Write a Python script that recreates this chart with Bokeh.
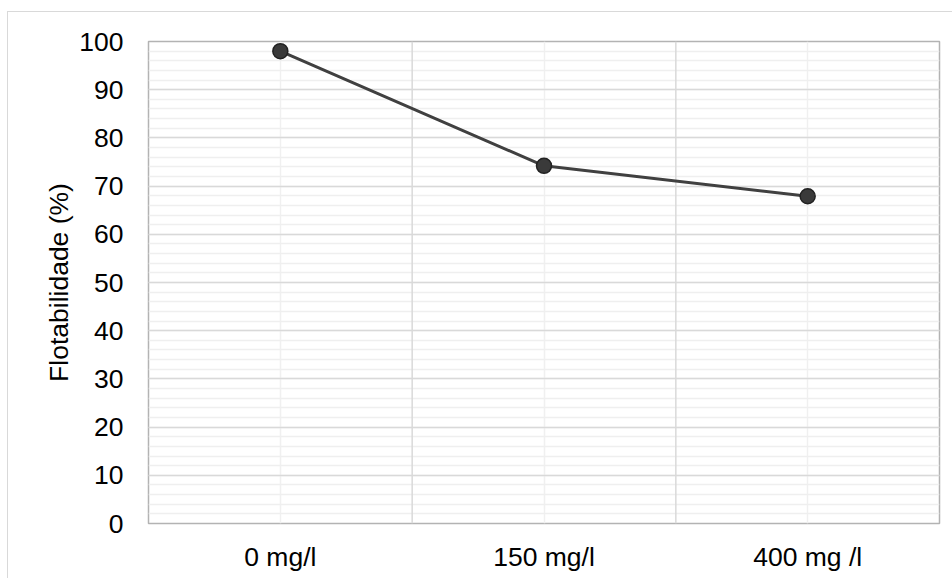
from bokeh.plotting import figure
from bokeh.models import FactorRange, Range1d, FixedTicker, Span, ColumnDataSource
from bokeh.embed import file_html
from bokeh.resources import INLINE

categories = ["0 mg/l", "150 mg/l", "400 mg /l"]
flotabilidade = [98.0, 74.2, 67.9]
y_ticks = list(range(0, 101, 10))
y_minor = list(range(0, 101, 2))
y_label = "Flotabilidade (%)"

FONT = "Liberation Sans"
TXT = "#000000"
FS = "26.5px"

src = ColumnDataSource(dict(x=categories, y=flotabilidade))

p = figure(width=945, height=567, x_range=FactorRange(factors=categories, range_padding=0),
           y_range=Range1d(0, 100), output_backend="svg", toolbar_location=None,
           min_border_left=140, min_border_right=14, min_border_top=29, min_border_bottom=56)
p.styles = {"border-top": "1px solid #d9d9d9", "border-left": "1px solid #d9d9d9",
            "margin-left": "7px", "margin-top": "11px"}

p.background_fill_color = "white"
p.border_fill_color = "white"
p.outline_line_color = "#b3b3b3"
p.outline_line_width = 1.5

# y axis
p.yaxis.ticker = FixedTicker(ticks=y_ticks, minor_ticks=y_minor)
p.yaxis.axis_line_color = None
p.yaxis.major_tick_line_color = None
p.yaxis.minor_tick_line_color = None
p.yaxis.major_label_standoff = 19
p.yaxis.major_label_text_font = FONT
p.yaxis.major_label_text_font_size = FS
p.yaxis.major_label_text_color = TXT
p.yaxis.axis_label = y_label
p.yaxis.axis_label_text_font = FONT
p.yaxis.axis_label_text_font_size = FS
p.yaxis.axis_label_text_font_style = "normal"
p.yaxis.axis_label_text_color = TXT
p.yaxis.axis_label_standoff = 2

# x axis
p.xaxis.axis_line_color = None
p.xaxis.major_tick_line_color = None
p.xaxis.minor_tick_line_color = None
p.xaxis.major_label_standoff = 12
p.xaxis.major_label_text_font = FONT
p.xaxis.major_label_text_font_size = FS
p.xaxis.major_label_text_color = TXT

# grids
p.ygrid.grid_line_color = "#d9d9d9"
p.ygrid.grid_line_width = 1.5
p.ygrid.minor_grid_line_color = "#efefef"
p.ygrid.minor_grid_line_width = 1.5
p.xgrid.grid_line_color = "#f0f0f0"
p.xgrid.grid_line_width = 1.5
for loc in range(1, len(categories)):
    p.add_layout(Span(location=loc, dimension="height", line_color="#d9d9d9",
                      line_width=1.5, level="underlay"))

p.line("x", "y", source=src, line_color="#404040", line_width=3)
p.scatter("x", "y", source=src, size=15, fill_color="#3a3a3a", line_color="#222222", line_width=1.5)

open("out.html", "w").write(file_html(p, INLINE))
